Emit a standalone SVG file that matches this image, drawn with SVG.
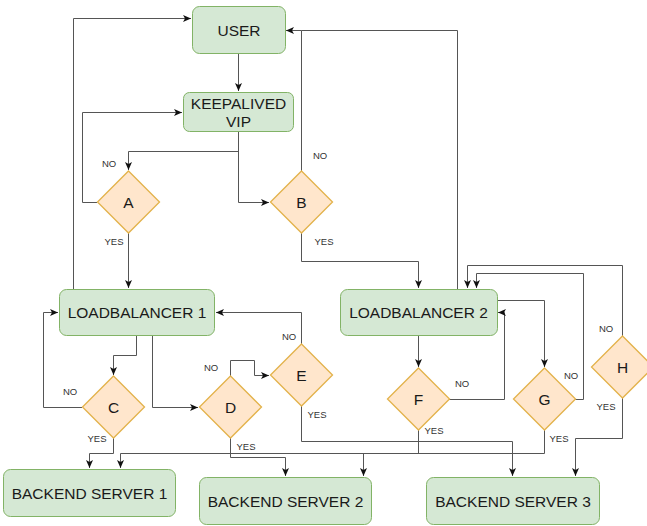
<svg xmlns="http://www.w3.org/2000/svg" width="647" height="526" viewBox="0 0 647 526">
<defs>
<marker id="arr" viewBox="0 0 8 8" refX="8" refY="4" markerWidth="8" markerHeight="8" markerUnits="userSpaceOnUse" orient="auto">
<path d="M0,0.5 L8,4 L0,7.5 L2,4 Z" fill="#111"/>
</marker>
</defs>
<style>
.box{fill:#d5e8d4;stroke:#82b366;stroke-width:1}
.dia{fill:#ffe6cc;stroke:#e3b24a;stroke-width:1.3}
.t{font-family:"Liberation Sans",Arial,sans-serif;font-size:15.5px;fill:#1a1a1a;text-anchor:middle}
.l{font-family:"Liberation Sans",Arial,sans-serif;font-size:9.5px;fill:#333;text-anchor:middle}
.e{fill:none;stroke:#555;stroke-width:1}
.a{marker-end:url(#arr)}
</style>
<rect width="647" height="526" fill="#fff"/>
<g id="connectors">
<path class="e a" d="M238.5,53 V91"/>
<path class="e a" d="M238.5,132 V151.5 H128.5 V170"/>
<path class="e a" d="M238.5,132 V202.5 H269"/>
<path class="e a" d="M97,202.5 H82.5 V112.5 H182"/>
<path class="e a" d="M128.5,233 V288"/>
<path class="e a" d="M73.5,289 V18.5 H191"/>
<path class="e a" d="M301.5,171 V30.5 H286"/>
<path class="e" d="M457.5,289 V30.5 H301.5"/>
<path class="e a" d="M301.5,233 V261.5 H418.5 V288"/>
<path class="e a" d="M136.5,336 V355.5 H113.5 V375"/>
<path class="e a" d="M82,407.5 H43.5 V312.5 H58"/>
<path class="e a" d="M113.5,438 V453.5 H89.5 V468"/>
<path class="e a" d="M152.5,336 V407.5 H198"/>
<path class="e a" d="M230.5,376 V360.5 H254.5 V375.5 H269"/>
<path class="e a" d="M230.5,438 V457.5 H285.5 V476"/>
<path class="e a" d="M301.5,344 V312.5 H216"/>
<path class="e a" d="M301.5,406 V441.5 H512.5 V476"/>
<path class="e a" d="M418.5,336 V367"/>
<path class="e a" d="M418.5,430 V453.5 H363.5 V476"/>
<path class="e a" d="M544.5,430 V453.5 H120.5 V468"/>
<path class="e a" d="M449,399.5 H504.5 V312.5 H498"/>
<path class="e a" d="M497,300.5 H544.5 V367"/>
<path class="e a" d="M575,399.5 H583.5 V273.5 H476.5 V288"/>
<path class="e a" d="M622.5,336 V265.5 H467.5 V288"/>
<path class="e a" d="M622.5,398 V438.5 H575.5 V476"/>
</g>
<g id="labels">
<text class="l" x="109" y="166.5">NO</text>
<text class="l" x="114" y="245">YES</text>
<text class="l" x="320" y="158.5">NO</text>
<text class="l" x="324" y="245">YES</text>
<text class="l" x="70" y="394.5">NO</text>
<text class="l" x="97" y="441.5">YES</text>
<text class="l" x="211" y="371">NO</text>
<text class="l" x="246" y="449.5">YES</text>
<text class="l" x="289" y="339.5">NO</text>
<text class="l" x="317" y="418">YES</text>
<text class="l" x="462" y="386.5">NO</text>
<text class="l" x="434" y="433.5">YES</text>
<text class="l" x="571" y="379">NO</text>
<text class="l" x="559" y="441.5">YES</text>
<text class="l" x="606" y="331.5">NO</text>
<text class="l" x="606" y="410">YES</text>
</g>
<g id="user"><rect class="box" x="192.5" y="6.5" width="93" height="47" rx="7"/><text class="t" x="239" y="35.5">USER</text></g>
<g id="keepalived"><rect class="box" x="183.5" y="92.5" width="110" height="39" rx="6"/><text class="t" x="238.5" y="108.5">KEEPALIVED</text><text class="t" x="238.5" y="127">VIP</text></g>
<g id="lb1"><rect class="box" x="59.5" y="289.5" width="155" height="46" rx="7"/><text class="t" x="137" y="318">LOADBALANCER 1</text></g>
<g id="lb2"><rect class="box" x="340.5" y="289.5" width="157" height="46" rx="7"/><text class="t" x="418.5" y="318">LOADBALANCER 2</text></g>
<g id="bs1"><rect class="box" x="3.5" y="469.5" width="172" height="47" rx="7"/><text class="t" x="89.5" y="498.5">BACKEND SERVER 1</text></g>
<g id="bs2"><rect class="box" x="199.5" y="477.5" width="172" height="47" rx="7"/><text class="t" x="285.5" y="506.5">BACKEND SERVER 2</text></g>
<g id="bs3"><rect class="box" x="426.5" y="477.5" width="173" height="47" rx="7"/><text class="t" x="513" y="506.5">BACKEND SERVER 3</text></g>
<g id="A"><path class="dia" d="M128.5,171 L159.5,202 L128.5,233 L97.5,202 Z"/><text class="t" x="128.5" y="208">A</text></g>
<g id="B"><path class="dia" d="M301.5,171 L332.5,202 L301.5,233 L270.5,202 Z"/><text class="t" x="301.5" y="208">B</text></g>
<g id="C"><path class="dia" d="M113.5,376 L144.5,407 L113.5,438 L82.5,407 Z"/><text class="t" x="113.5" y="413">C</text></g>
<g id="D"><path class="dia" d="M230.5,376 L261.5,407 L230.5,438 L199.5,407 Z"/><text class="t" x="230.5" y="413">D</text></g>
<g id="E"><path class="dia" d="M301.5,344 L332.5,375 L301.5,406 L270.5,375 Z"/><text class="t" x="301.5" y="381">E</text></g>
<g id="F"><path class="dia" d="M418.5,368 L449.5,399 L418.5,430 L387.5,399 Z"/><text class="t" x="418.5" y="405">F</text></g>
<g id="G"><path class="dia" d="M544.5,368 L575.5,399 L544.5,430 L513.5,399 Z"/><text class="t" x="544.5" y="405">G</text></g>
<g id="H"><path class="dia" d="M622.5,336 L653.5,367 L622.5,398 L591.5,367 Z"/><text class="t" x="622.5" y="373">H</text></g>
</svg>
